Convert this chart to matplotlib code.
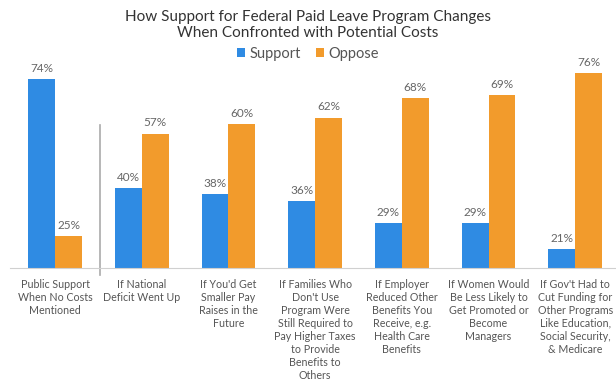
import numpy as np
import matplotlib
matplotlib.use("Agg")
import matplotlib.pyplot as plt

plt.rcParams['font.family'] = ['Lato', 'DejaVu Sans']

# data
categories = [
    "Public Support\nWhen No Costs\nMentioned",
    "If National\nDeficit Went Up",
    "If You'd Get\nSmaller Pay\nRaises in the\nFuture",
    "If Families Who\nDon't Use\nProgram Were\nStill Required to\nPay Higher Taxes\nto Provide\nBenefits to\nOthers",
    "If Employer\nReduced Other\nBenefits You\nReceive, e.g.\nHealth Care\nBenefits",
    "If Women Would\nBe Less Likely to\nGet Promoted or\nBecome\nManagers",
    "If Gov't Had to\nCut Funding for\nOther Programs\nLike Education,\nSocial Security,\n& Medicare",
]
support = [74, 40, 38, 36, 29, 29, 21]
oppose = [25, 57, 60, 62, 68, 69, 76]

blue = "#2F8BE3"
orange = "#F29B2C"
txt = "#555555"

fig = plt.figure(figsize=(6.16, 3.82), dpi=100)
ax = fig.add_axes([10/616, 114/382, 606/616, 208/382])

# the value axis does not start at zero in the original
y0 = 15

x = np.arange(len(categories))
w = 0.31
b1 = ax.bar(x - w/2, support, w, color=blue, label="Support")
b2 = ax.bar(x + w/2, oppose, w, color=orange, label="Oppose")

for bars, vals in ((b1, support), (b2, oppose)):
    for r, v in zip(bars, vals):
        ax.text(r.get_x() + r.get_width()/2, v + 1.6, f"{v}%", ha="center", va="bottom",
                fontsize=8.5, color="#666666")

for xi, lab in zip(x, categories):
    ax.text(xi, y0 - 3.4, lab, ha="center", va="top", fontsize=7.7, color=txt,
            linespacing=1.22)

# separator between baseline and cost scenarios
ax.plot([0.52, 0.52], [y0 - 2.2, 59.7], color="#aaaaaa", lw=1.2, clip_on=False)

ax.set_xlim(-0.52, 6.47)
ax.set_ylim(y0, 80)
ax.set_xticks([])
ax.set_yticks([])
for s in ("top", "right", "left"):
    ax.spines[s].set_visible(False)
ax.spines["bottom"].set_color("#d0d0d0")

fig.text(0.5, 1 - 25/382, "How Support for Federal Paid Leave Program Changes\nWhen Confronted with Potential Costs",
         ha="center", va="center", fontsize=11, color="#333333", linespacing=1.15)

fig.legend(handles=[b1, b2], loc="center", bbox_to_anchor=(0.5, 1 - 54/382), ncol=2,
           frameon=False, fontsize=10.5, handlelength=0.6, handleheight=0.6,
           handletextpad=0.3, columnspacing=1.0, labelcolor="#555555")

fig.savefig("out.png", dpi=100)
